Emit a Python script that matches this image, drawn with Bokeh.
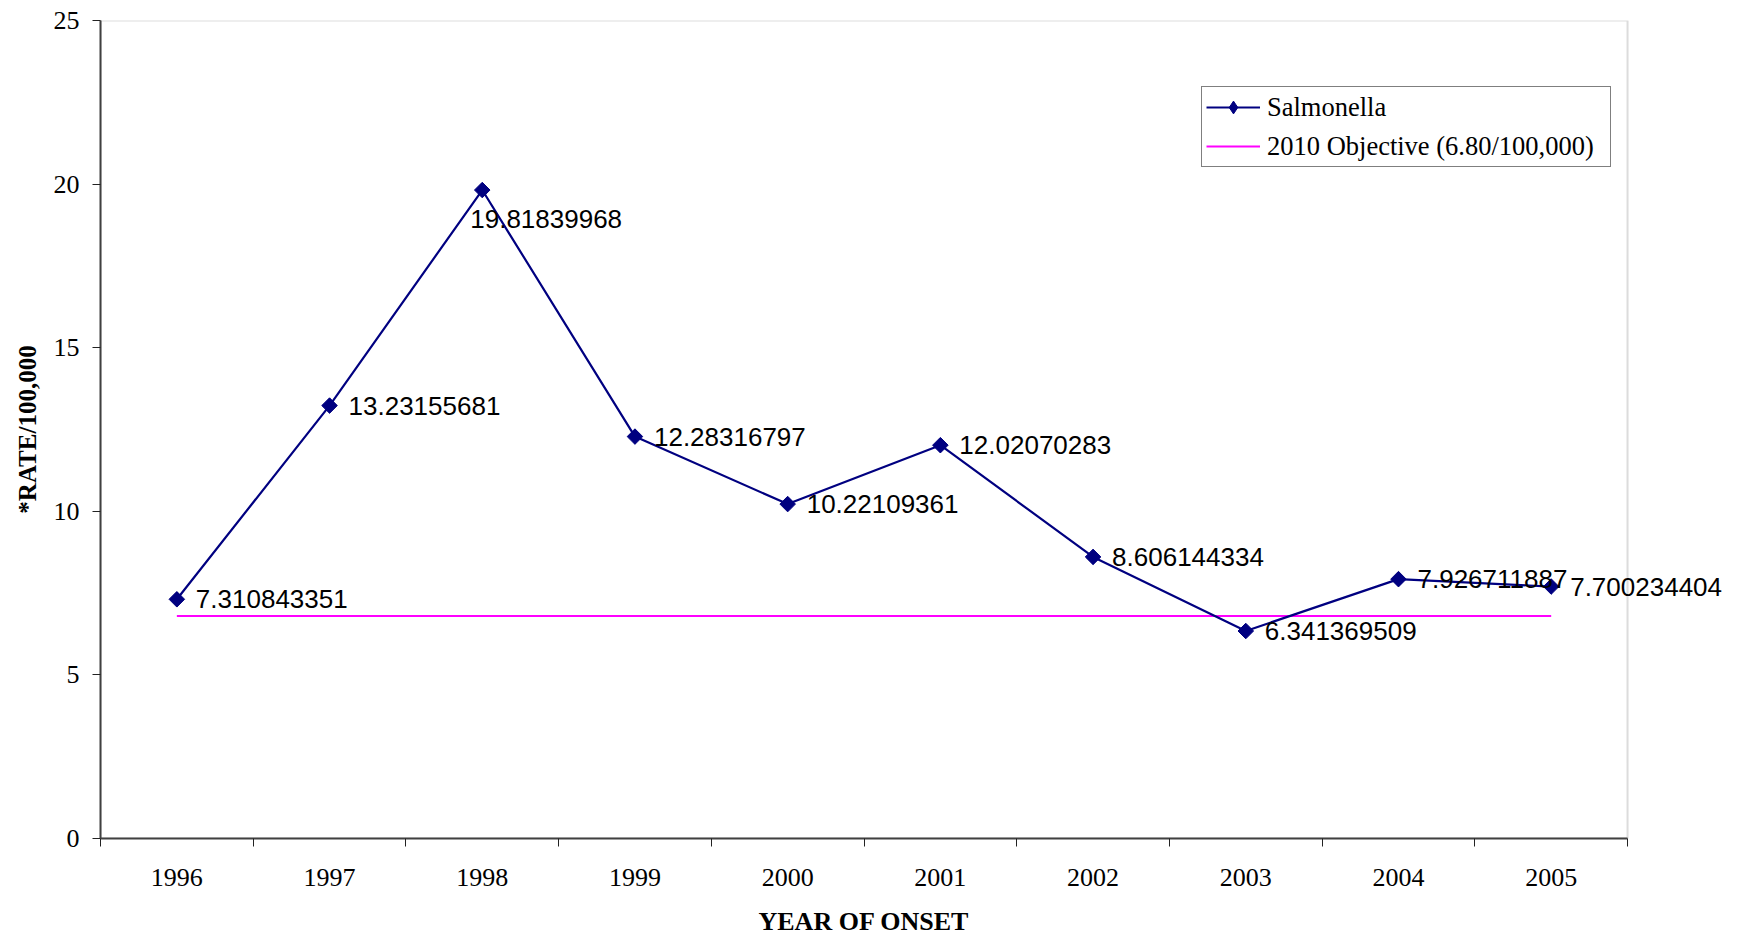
from bokeh.plotting import figure
from bokeh.models import (Range1d, FixedTicker, ColumnDataSource, Label,
                          Legend, LegendItem, BoxAnnotation, Title)
from bokeh.embed import file_html
from bokeh.resources import INLINE

# ---- data ----
years = [1996, 1997, 1998, 1999, 2000, 2001, 2002, 2003, 2004, 2005]
rates = [7.310843351, 13.23155681, 19.81839968, 12.28316797, 10.22109361,
         12.02070283, 8.606144334, 6.341369509, 7.926711887, 7.700234404]
rate_labels = ["7.310843351", "13.23155681", "19.81839968", "12.28316797",
               "10.22109361", "12.02070283", "8.606144334", "6.341369509",
               "7.926711887", "7.700234404"]
objective = 6.80
y_ticks = [0, 5, 10, 15, 20, 25]
x_title = "YEAR OF ONSET"
y_title = "*RATE/100,000"

# ---- label placement (style) ----
label_dx = [19, 19, -12, 19, 19, 19, 19, 19, 19, 19]
label_dy = [0, 0, -29, 0, 0, 0, 0, 0, 0, 0]

NAVY = "#000080"
MAGENTA = "#FF00FF"
SERIF = "Liberation Serif"
SANS = "Liberation Sans"

x_lo = years[0] - 0.5
x_hi = years[-1] + 0.5
RIGHT_PAD = 0.707   # extra room right of the plot box (for the last data label)

p = figure(width=1735, height=937, output_backend="svg", toolbar_location=None,
           x_range=Range1d(x_lo, x_hi + RIGHT_PAD),
           y_range=Range1d(y_ticks[0], y_ticks[-1]),
           min_border_left=100, min_border_right=0,
           min_border_top=20, min_border_bottom=99)

p.xgrid.grid_line_color = None
p.ygrid.grid_line_color = None
p.outline_line_color = None
p.background_fill_color = "white"
p.border_fill_color = "white"

# plot box outline (grey top/right; left/bottom covered by the axes)
p.add_layout(BoxAnnotation(left=x_lo, right=x_hi, bottom=y_ticks[0], top=y_ticks[-1],
                           fill_alpha=0, line_color="#8c8c8c", line_width=2,
                           level="underlay"))

# x axis: labels at centres, ticks at category boundaries
xb = [y - 0.5 for y in years] + [years[-1] + 0.5]
p.xaxis.bounds = (x_lo, x_hi)
p.xaxis.ticker = FixedTicker(ticks=years, minor_ticks=xb)
p.xaxis.major_tick_line_color = None
p.xaxis.major_tick_out = 8
p.xaxis.major_tick_in = 0
p.xaxis.minor_tick_line_color = "#222222"
p.xaxis.minor_tick_line_width = 1
p.xaxis.minor_tick_out = 8
p.xaxis.minor_tick_in = 0
p.xaxis.major_label_standoff = 22

p.yaxis.ticker = FixedTicker(ticks=y_ticks)
p.yaxis.minor_tick_line_color = None
p.yaxis.major_tick_out = 8
p.yaxis.major_tick_in = 0
p.yaxis.major_tick_line_color = "#222222"
p.yaxis.major_label_standoff = 13
p.yaxis.axis_label = y_title
p.yaxis.axis_label_standoff = 10

for ax in (p.xaxis, p.yaxis):
    ax.axis_line_color = "#404040"
    ax.axis_line_width = 2
    ax.major_label_text_font = SERIF
    ax.major_label_text_font_size = "26px"
    ax.major_label_text_color = "black"
    ax.axis_label_text_font = SERIF
    ax.axis_label_text_font_style = "bold"
    ax.axis_label_text_color = "black"
p.yaxis.axis_label_text_font_size = "25px"

# x-axis title, centred under the plot box (not under the padded frame)
p.add_layout(Title(text=x_title, align="left", offset=658, standoff=0,
                   vertical_align="bottom",
                   padding=dict(left=0, right=0, top=16, bottom=0),
                   text_font=SERIF, text_font_style="bold", text_font_size="26px",
                   text_color="black"), "below")

# objective line
obj_r = p.line(years, [objective] * len(years), line_color=MAGENTA, line_width=2)

# salmonella series
src = ColumnDataSource(dict(x=years, y=rates))
sal_line = p.line("x", "y", source=src, line_color=NAVY, line_width=2.2)
# narrow diamond (hidden under rotated squares) provides the legend glyph
sal_leg = p.scatter("x", "y", source=src, marker="diamond", size=14,
                    fill_color=NAVY, line_color=NAVY)
sal_pts = p.scatter("x", "y", source=src, marker="square", angle=0.785398,
                    size=11, fill_color=NAVY, line_color=NAVY)

for xv, yv, txt, dx, dy in zip(years, rates, rate_labels, label_dx, label_dy):
    p.add_layout(Label(x=xv, y=yv, text=txt, x_offset=dx, y_offset=dy,
                       text_font=SANS, text_font_size="26px", text_color="black",
                       text_align="left", text_baseline="middle"))

legend = Legend(items=[LegendItem(label="Salmonella", renderers=[sal_line, sal_leg]),
                       LegendItem(label="2010 Objective (6.80/100,000)", renderers=[obj_r])],
                location=(1101, 671))
legend.label_text_font = SERIF
legend.label_text_font_size = "26.5px"
legend.label_text_color = "black"
legend.glyph_width = 54
legend.glyph_height = 32
legend.label_height = 32
legend.label_width = 339
legend.spacing = 7
legend.padding = 4
legend.margin = 0
legend.label_standoff = 7
legend.border_line_color = "black"
legend.border_line_width = 1
legend.background_fill_alpha = 1
p.add_layout(legend)

open("out.html", "w").write(file_html(p, INLINE))
